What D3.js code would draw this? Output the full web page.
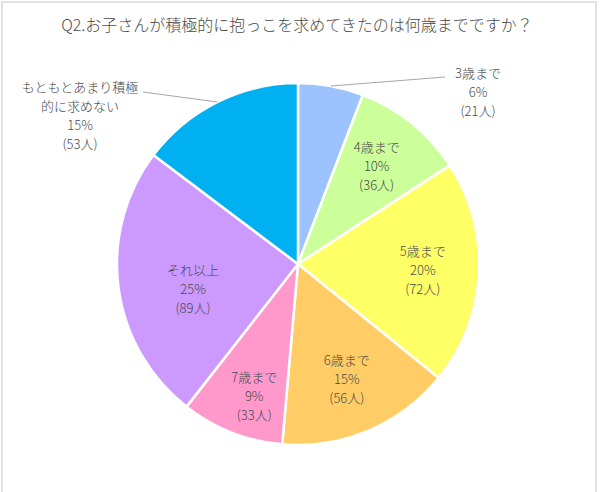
<!DOCTYPE html>
<html>
<head>
<meta charset="utf-8">
<script src="https://cdn.jsdelivr.net/npm/d3@7"></script>
<style>
  body { margin: 0; background: #fff; }
  svg text { font-family: "Noto Sans CJK JP", "Noto Sans", sans-serif; font-weight: 300; fill: #4a4a4a; }
</style>
</head>
<body>
<div id="chart"></div>
<script>
const categories = ["3歳まで", "4歳まで", "5歳まで", "6歳まで", "7歳まで", "それ以上", "もともとあまり積極的に求めない"];
const counts = [21, 36, 72, 56, 33, 89, 53];
const percents = ["6%", "10%", "20%", "15%", "9%", "25%", "15%"];
const colors = ["#9DC3FF", "#CCFF99", "#FFFF66", "#FFCC66", "#FF99CC", "#CC99FF", "#00B0F0"];
const title = "Q2.お子さんが積極的に抱っこを求めてきたのは何歳までですか？";

const width = 600, height = 492;
const cx = 298, cy = 264, radius = 181;

const svg = d3.select("#chart").append("svg")
    .attr("width", width)
    .attr("height", height);

// frame
svg.append("rect")
    .attr("x", 2).attr("y", 2)
    .attr("width", 594).attr("height", 500)
    .attr("fill", "none")
    .attr("stroke", "#d9d9d9")
    .attr("stroke-width", 1.5);

svg.append("text")
    .attr("x", 297).attr("y", 31)
    .attr("text-anchor", "middle")
    .style("font-size", "16px")
    .text(title);

const data = categories.map((c, i) => ({ name: c, value: counts[i], pct: percents[i], color: colors[i] }));

const pie = d3.pie().sort(null).value(d => d.value);
const arcs = pie(data);

const arc = d3.arc().innerRadius(0).outerRadius(radius);
const labelArc = d3.arc().innerRadius(125).outerRadius(125);
const edgeArc = d3.arc().innerRadius(radius).outerRadius(radius);

const g = svg.append("g").attr("transform", `translate(${cx},${cy})`);

g.selectAll("path.slice")
    .data(arcs)
    .enter().append("path")
    .attr("class", "slice")
    .attr("d", arc)
    .attr("fill", d => d.data.color)
    .attr("stroke", "#fff")
    .attr("stroke-width", 2.5)
    .attr("stroke-linejoin", "round");

// labels: first and last slice sit outside with a leader line
const outside = {
    0: { x: 180, y: -191, lines: ["3歳まで"], lineEnd: [147, -187] },
    6: { x: -218, y: -177, lines: ["もともとあまり積極", "的に求めない"], lineEnd: [-155, -172] }
};
// small shifts like Excel's best-fit placement
const nudge = { 4: [2, 16], 5: [19, 9] };

arcs.forEach((d, i) => {
    let x, y, lines;
    if (outside[i]) {
        const o = outside[i];
        const p = edgeArc.centroid(d);
        g.append("line")
            .attr("x1", p[0]).attr("y1", p[1])
            .attr("x2", o.lineEnd[0]).attr("y2", o.lineEnd[1])
            .attr("stroke", "#a6a6a6")
            .attr("stroke-width", 1);
        x = o.x; y = o.y; lines = o.lines;
    } else {
        [x, y] = labelArc.centroid(d);
        if (nudge[i]) { x += nudge[i][0]; y += nudge[i][1]; }
        lines = [d.data.name];
        y -= 19;
    }
    lines = lines.concat([d.data.pct, `(${d.data.value}人)`]);
    const t = g.append("text")
        .attr("text-anchor", "middle")
        .style("font-size", "13px");
    lines.forEach((l, j) => {
        t.append("tspan")
            .attr("x", x)
            .attr("y", y + j * 19)
            .attr("dy", "0.35em")
            .text(l);
    });
});
</script>
</body>
</html>
